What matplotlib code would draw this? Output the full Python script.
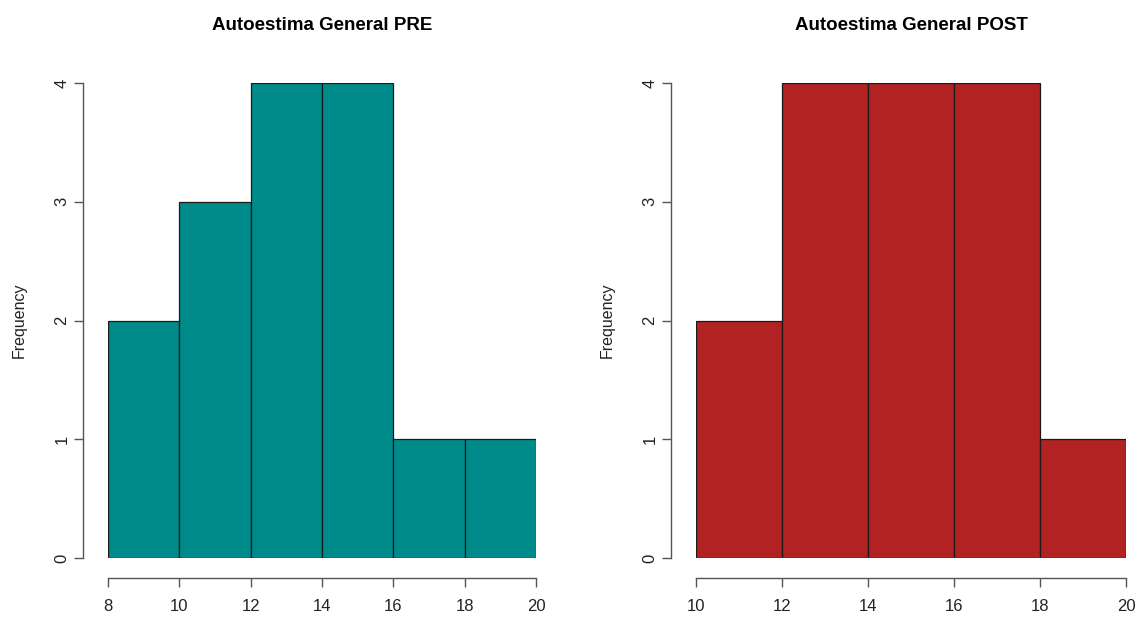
import numpy as np
import matplotlib.pyplot as plt

plt.rcParams['font.family'] = ['Liberation Sans', 'DejaVu Sans']

# histogram bins and counts
pre_edges = [8, 10, 12, 14, 16, 18, 20]
pre_counts = [2, 3, 4, 4, 1, 1]
post_edges = [10, 12, 14, 16, 18, 20]
post_counts = [2, 4, 4, 4, 1]

titles = ['Autoestima General PRE', 'Autoestima General POST']
colors = ['#008B8B', '#B22222']

W, H = 1137, 617
fig = plt.figure(figsize=(W / 100, H / 100), dpi=100)

# axes boxes in pixels: (left, right) of data range, y from 83 (top) to 558 (bottom)
boxes = [(108, 536), (696, 1126)]

for (x0, x1), edges, counts, title, col in zip(boxes, [pre_edges, post_edges],
                                               [pre_counts, post_counts], titles, colors):
    ax = fig.add_axes([x0 / W, (H - 558) / H, (x1 - x0) / W, (558 - 83) / H])
    edges = np.array(edges)
    ax.bar(edges[:-1], counts, width=np.diff(edges), align='edge',
           color=col, edgecolor='#1a1a1a', linewidth=0.9)
    ax.set_xlim(edges[0], edges[-1])
    ax.set_ylim(0, 4)
    ax.set_xticks(edges)
    ax.set_yticks([0, 1, 2, 3, 4])

    for s in ['top', 'right']:
        ax.spines[s].set_visible(False)
    ax.spines['left'].set_position(('outward', 18))
    ax.spines['bottom'].set_position(('outward', 14.4))
    for s in ['left', 'bottom']:
        ax.spines[s].set_color('#555555')
        ax.spines[s].set_linewidth(1.0)
    ax.tick_params(length=6.3, width=1.0, color='#555555', labelsize=12,
                   labelcolor='#222222')
    ax.tick_params(axis='x', pad=9)
    ax.tick_params(axis='y', pad=3.5)
    for lab in ax.get_yticklabels():
        lab.set_rotation(90)
        lab.set_va('center')

    ax.set_title(title, fontsize=13.5, fontweight='bold', pad=38.5)
    ax.set_ylabel('Frequency', fontsize=11.5, color='#222222', labelpad=20)

fig.savefig('out.png', dpi=100)
